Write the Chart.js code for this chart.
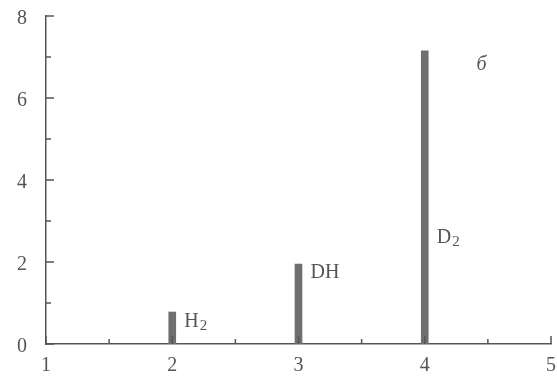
<!DOCTYPE html>
<html>
<head>
<meta charset="utf-8">
<script src="https://cdn.jsdelivr.net/npm/chart.js@4"></script>
<style>
  html, body { margin: 0; padding: 0; background: #fff; }
  #wrap { width: 557px; height: 376px; }
</style>
</head>
<body>
<div id="wrap"><canvas id="spectrum" width="557" height="376"></canvas></div>
<script>
/* mass spectrum: peak heights per m/z */
const masses = [2, 3, 4];
const intensities = [0.78, 1.95, 7.15];
const species = [['H', '2'], ['DH', ''], ['D', '2']];
const xTicks = [1, 2, 3, 4, 5];
const yTicks = [0, 2, 4, 6, 8];
const panelLetter = 'б';

const INK = '#555';
const BAR = '#6f6f6f';
const SERIF = '"Liberation Serif", "DejaVu Serif", serif';

/* ---------- INWARD TICKS + PEAK LABELS ---------- */
const decorations = {
  id: 'decorations',
  afterDraw(chart) {
    const { ctx, scales: { x, y } } = chart;
    ctx.save();
    ctx.strokeStyle = INK;
    ctx.lineWidth = 1.5;

    // y ticks point right, into the plot
    for (let v = 0; v <= 8; v++) {
      const py = y.getPixelForValue(v);
      const len = v % 2 === 0 ? 8 : 5;
      ctx.beginPath();
      ctx.moveTo(x.left, py);
      ctx.lineTo(x.left + len, py);
      ctx.stroke();
    }
    // x ticks point up
    for (let v = 1; v <= 5; v += 0.5) {
      const px = x.getPixelForValue(v);
      const len = Number.isInteger(v) ? 8 : 5;
      ctx.beginPath();
      ctx.moveTo(px, y.bottom);
      ctx.lineTo(px, y.bottom - len);
      ctx.stroke();
    }

    // species labels beside each peak
    const labelY = [0.55, 1.75, 2.6];
    ctx.fillStyle = INK;
    ctx.textBaseline = 'middle';
    species.forEach(([base, sub], i) => {
      const px = x.getPixelForValue(masses[i]) + 12;
      const py = y.getPixelForValue(labelY[i]);
      ctx.font = '20px ' + SERIF;
      ctx.fillText(base, px, py);
      if (sub) {
        const w = ctx.measureText(base).width;
        ctx.font = '15px ' + SERIF;
        ctx.fillText(sub, px + w + 1, py + 5);
      }
    });

    ctx.font = 'italic 20px ' + SERIF;
    ctx.textAlign = 'center';
    ctx.fillText(panelLetter, x.getPixelForValue(4.45), y.getPixelForValue(6.8));
    ctx.restore();
  }
};

new Chart(document.getElementById('spectrum'), {
  type: 'bar',
  data: {
    datasets: [{
      data: masses.map((m, i) => ({ x: m, y: intensities[i] })),
      backgroundColor: BAR,
      borderWidth: 0,
      barThickness: 7
    }]
  },
  options: {
    responsive: false,
    animation: false,
    devicePixelRatio: 1,
    layout: { padding: { left: 0, top: 16, right: 6, bottom: 0 } },
    plugins: { legend: { display: false }, tooltip: { enabled: false } },
    scales: {
      x: {
        type: 'linear',
        offset: false,
        min: 1, max: 5,
        afterBuildTicks: s => { s.ticks = xTicks.map(v => ({ value: v })); },
        afterFit: s => { s.height = 32; s.paddingLeft = 0; s.paddingRight = 0; },
        grid: { display: false, offset: false },
        border: { display: true, color: INK, width: 1.5 },
        ticks: { color: INK, padding: 2, font: { family: SERIF, size: 20 } }
      },
      y: {
        min: 0, max: 8,
        afterBuildTicks: s => { s.ticks = yTicks.map(v => ({ value: v })); },
        afterFit: s => { s.width = 46; s.paddingTop = 0; s.paddingBottom = 0; },
        grid: { display: false },
        border: { display: true, color: INK, width: 1.5 },
        ticks: { color: INK, padding: 11, labelOffset: 3, font: { family: SERIF, size: 20 } }
      }
    }
  },
  plugins: [decorations]
});
</script>
</body>
</html>
